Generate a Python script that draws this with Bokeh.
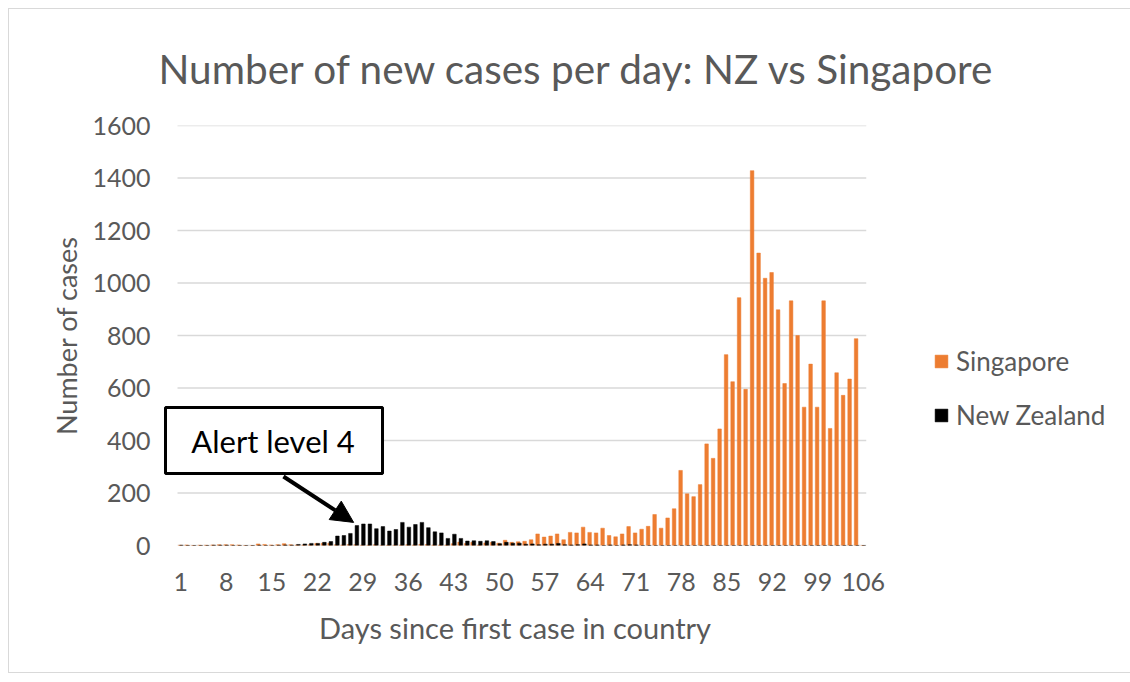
from bokeh.plotting import figure
from bokeh.models import (Range1d, FixedTicker, Legend, LegendItem, BoxAnnotation,
                          Label, Arrow, NormalHead, ColumnDataSource)
from bokeh.transform import dodge
from bokeh.embed import file_html
from bokeh.resources import INLINE

days = list(range(1, 107))

singapore = [
    1, 2, 0, 1, 1, 2, 3, 3, 3, 2,
    0, 0, 6, 4, 2, 3, 7, 3, 2, 2,
    3, 8, 9, 9, 3, 2, 4, 3, 1, 1,
    3, 0, 1, 1, 2, 3, 2, 4, 4, 2,
    2, 2, 7, 13, 8, 12, 2, 10, 12, 9,
    20, 12, 14, 16, 22, 44, 32, 36, 44, 22,
    50, 48, 70, 50, 48, 66, 38, 33, 44, 72,
    48, 62, 73, 118, 66, 105, 140, 286, 197, 186,
    232, 387, 332, 444, 727, 624, 944, 595, 1428, 1114,
    1018, 1040, 898, 617, 932, 800, 527, 691, 527, 932,
    446, 658, 572, 634, 788, 0,
]

new_zealand = [
    1, 0, 0, 0, 0, 1, 1, 1, 0, 0,
    0, 0, 1, 0, 0, 1, 2, 1, 4, 6,
    8, 8, 12, 15, 36, 38, 46, 76, 82, 82,
    64, 72, 55, 61, 88, 70, 80, 88, 68, 52,
    48, 27, 43, 27, 17, 18, 16, 18, 15, 7,
    12, 9, 9, 5, 6, 3, 5, 5, 8, 3,
    2, 3, 6, 2, 2, 0, 2, 0, 2, 3,
    2, 0, 0, 0, 0, 0, 0, 0, 0, 0,
    0, 0, 0, 0, 0, 0, 0, 0, 0, 0,
    0, 0, 0, 0, 0, 0, 0, 0, 0, 0,
    0, 0, 0, 0, 0, 0,
]

x_ticks = [1, 8, 15, 22, 29, 36, 43, 50, 57, 64, 71, 78, 85, 92, 99, 106]
y_ticks = [0, 200, 400, 600, 800, 1000, 1200, 1400, 1600]

series_names = ["Singapore", "New Zealand"]
series_colors = ["#ED7D31", "#000000"]

title_text = "Number of new cases per day: NZ vs Singapore"
x_label = "Days since first case in country"
y_label = "Number of cases"
note_text = "Alert level 4"

FONT = "Lato"
GREY = "#595959"
GRID = "#D9D9D9"

src = ColumnDataSource(dict(day=days, sg=singapore, nz=new_zealand))
grid_src = ColumnDataSource(dict(y=y_ticks, x0=[0.5] * len(y_ticks),
                                 x1=[106.5] * len(y_ticks)))

x_start = 0.5 - 14 / 6.5
p = figure(frame_width=703, frame_height=420, output_backend="svg",
           toolbar_location=None,
           x_range=Range1d(x_start, 106.5), y_range=Range1d(0, 1600),
           min_border_left=154, min_border_right=255, min_border_top=115,
           min_border_bottom=127)
p.styles = {"border": "1px solid #D9D9D9", "margin-left": "8px", "margin-top": "8px"}

# horizontal gridlines spanning the category area
p.segment(x0="x0", x1="x1", y0="y", y1="y", source=grid_src,
          line_color=GRID, line_width=1.3)

r_sg = p.vbar(x=dodge("day", -0.1), top="sg", width=0.55, source=src,
              fill_color=series_colors[0], line_color=series_colors[0], line_width=0.5)
r_nz = p.vbar(x=dodge("day", 0.1), top="nz", width=0.55, source=src,
              fill_color=series_colors[1], line_color=series_colors[1], line_width=0.5)

p.title.text = title_text
p.title.text_font = FONT
p.title.text_font_size = "40.5px"
p.title.text_font_style = "normal"
p.title.text_color = GREY
p.title.align = "left"
p.title.offset = -5
p.title.standoff = 65

p.xaxis.ticker = FixedTicker(ticks=x_ticks)
p.yaxis.ticker = FixedTicker(ticks=y_ticks)
for ax in (p.xaxis, p.yaxis):
    ax.major_tick_line_color = None
    ax.minor_tick_line_color = None
    ax.major_tick_out = 0
    ax.major_tick_in = 0
    ax.axis_line_color = None
    ax.major_label_text_font = FONT
    ax.major_label_text_font_size = "25px"
    ax.major_label_text_color = GREY
    ax.axis_label_text_font = FONT
    ax.axis_label_text_font_style = "normal"
    ax.axis_label_text_color = GREY
p.xaxis.axis_label_text_font_size = "29px"
p.yaxis.axis_label_text_font_size = "27px"
p.xaxis.major_label_standoff = 27
p.yaxis.major_label_standoff = 13
p.xaxis.axis_label = x_label
p.yaxis.axis_label = y_label
p.xaxis.axis_label_standoff = 16
p.yaxis.axis_label_standoff = 6

p.xgrid.grid_line_color = None
p.ygrid.grid_line_color = None
p.outline_line_color = None

legend = Legend(items=[LegendItem(label=series_names[0], renderers=[r_sg]),
                       LegendItem(label=series_names[1], renderers=[r_nz])],
                location=(67, 114), orientation="vertical",
                glyph_width=16, glyph_height=16, label_height=20,
                label_standoff=7, spacing=22, margin=0, padding=0,
                border_line_color=None, background_fill_alpha=0,
                label_text_font=FONT, label_text_font_size="26px",
                label_text_color=GREY)
p.add_layout(legend, "right")

box = BoxAnnotation(left=-1.35, right=32.04, top=526, bottom=274,
                    fill_color="white", fill_alpha=1.0,
                    line_color="black", line_width=3, line_alpha=1.0)
p.add_layout(box)
p.add_layout(Label(x=15.2, y=400, text=note_text, text_align="center",
                   text_baseline="middle", text_font=FONT, text_font_size="31px",
                   text_color="black"))
p.add_layout(Arrow(end=NormalHead(size=22, fill_color="black", line_color="black"),
                   x_start=16.8, y_start=263, x_end=27.6, y_end=88,
                   line_width=4, line_color="black"))

open("out.html", "w").write(file_html(p, INLINE))
